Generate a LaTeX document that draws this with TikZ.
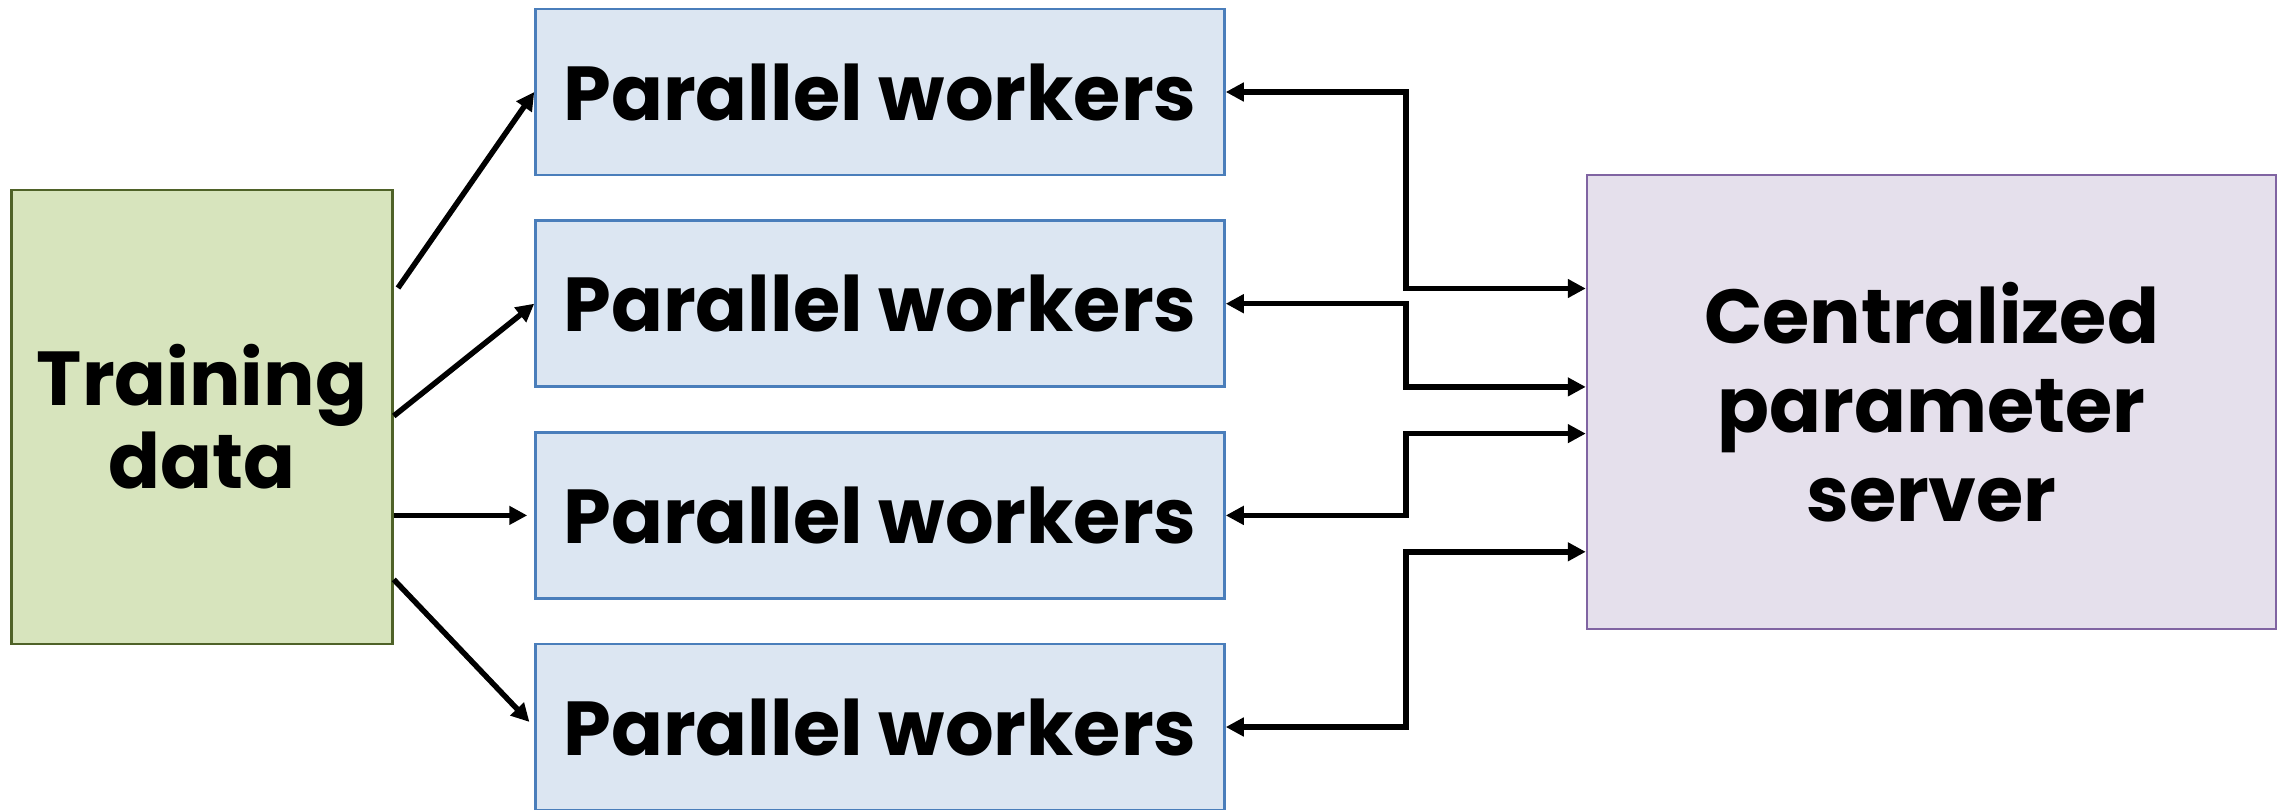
\documentclass[tikz,border=0pt]{standalone}
\usepackage{fontspec}
\setmainfont{Poppins}
\usetikzlibrary{arrows.meta,calc}
\definecolor{trfill}{HTML}{D7E4BD}
\definecolor{trdraw}{HTML}{4F6228}
\definecolor{wkfill}{HTML}{DCE6F2}
\definecolor{wkdraw}{HTML}{4A7EBB}
\definecolor{psfill}{HTML}{E5E0EC}
\definecolor{psdraw}{HTML}{8064A2}
\begin{document}
\begin{tikzpicture}[x=1pt,y=-1pt,
  box/.style={draw, line width=2.5pt, inner sep=0pt, align=center},
  boxtxt/.style={font=\fontsize{76.5}{83}\selectfont\bfseries},
  worker/.style={box, boxtxt, fill=wkfill, draw=wkdraw, minimum width=689pt, minimum height=166pt},
  conn/.style={line width=5.5pt, -{Triangle[length=18pt,width=18pt]}},
  both/.style={line width=5.5pt, {Triangle[length=18pt,width=18pt]}-{Triangle[length=18pt,width=18pt]}}]
\useasboundingbox (0,0) rectangle (2289,809);
\node[box, boxtxt, fill=trfill, draw=trdraw, minimum width=381pt, minimum height=454pt] (tr) at (202,417) {Training\\data};
\node[worker] (w1) at (880,92) {Parallel workers};
\node[worker] (w2) at (880,303.7) {Parallel workers};
\node[worker] (w3) at (880,515.4) {Parallel workers};
\node[worker] (w4) at (880,727) {Parallel workers};
\node[box, font=\fontsize{76.5}{89}\selectfont\bfseries, fill=psfill, draw=psdraw, minimum width=689pt, minimum height=454pt] (ps) at (1931.5,402) {Centralized\\parameter\\server};
% training to workers
\coordinate (s1) at (398,288);
\coordinate (s2) at ($(tr.east |- 0,416)$);
\coordinate (s3) at ($(tr.east |- 0,515.4)$);
\coordinate (s4) at ($(tr.east |- 0,579.5)$);
\draw[conn] (s1) -- (w1.west);
\draw[conn] (s2) -- (w2.west);
\draw[conn, shorten >=7pt] (s3) -- (w3.west);
\draw[conn, shorten >=7pt] (s4) -- (w4.west);
% workers to server
\coordinate (mid) at (1406,0);
\coordinate (p1) at (ps.west |- 0,288.5);
\coordinate (p2) at (ps.west |- 0,386.9);
\coordinate (p3) at (ps.west |- 0,433.6);
\coordinate (p4) at (ps.west |- 0,551.8);
\draw[both] (w1.east) -- (w1.east -| mid) |- (p1);
\draw[both] (w2.east) -- (w2.east -| mid) |- (p2);
\draw[both] (w3.east) -- (w3.east -| mid) |- (p3);
\draw[both] (w4.east) -- (w4.east -| mid) |- (p4);
\end{tikzpicture}
\end{document}
